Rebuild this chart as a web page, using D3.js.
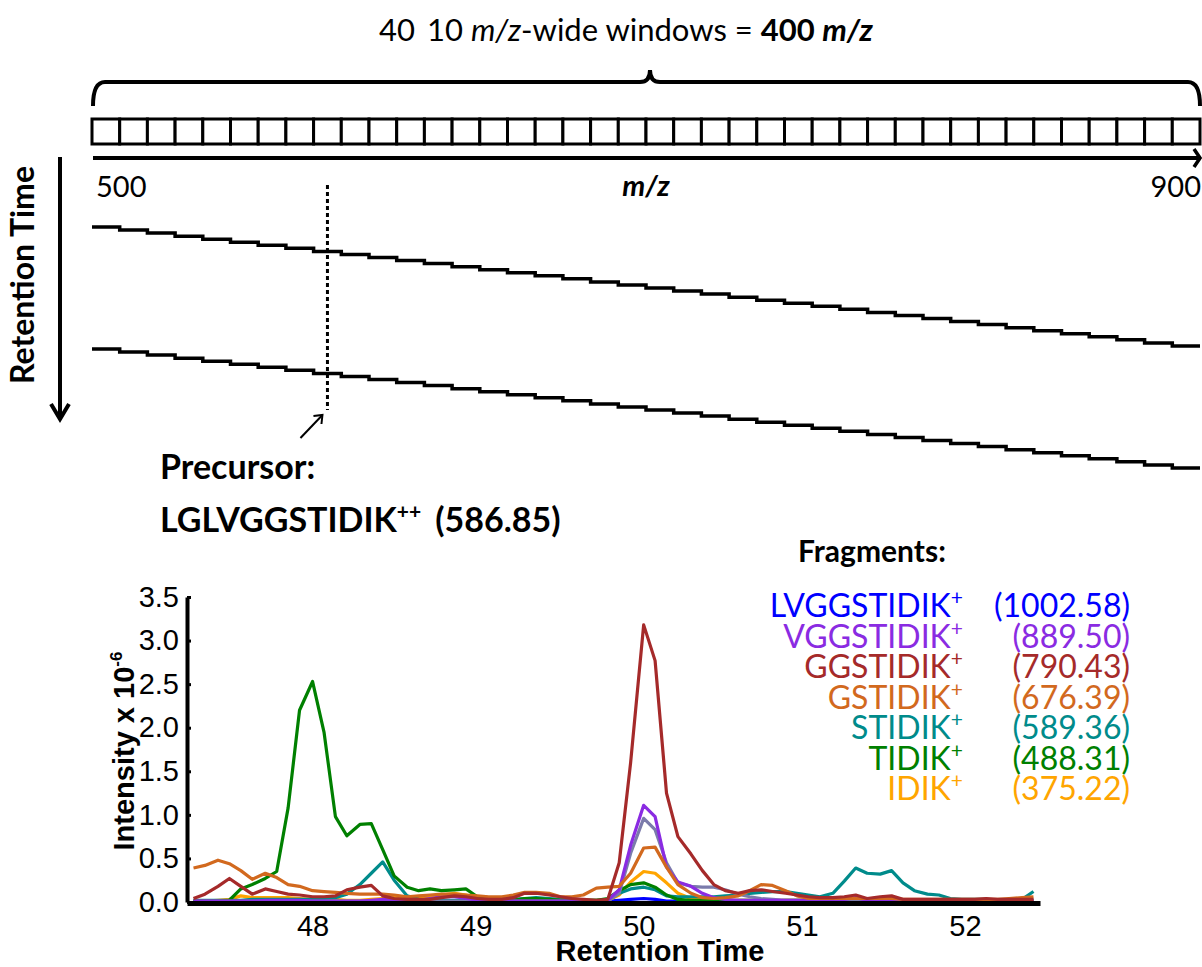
<!DOCTYPE html>
<html>
<head>
<meta charset="utf-8">
<script src="https://cdn.jsdelivr.net/npm/d3@7"></script>
<style>
  body { margin: 0; background: #fff; }
  svg { display: block; }
</style>
</head>
<body>
<svg id="chart" width="1202" height="967"></svg>
<script>
// ---- data ----
const mzExtent = [500, 900];
const windowWidth = 10;
const cycles = [0, 1];
const precursorMz = 586.85;

const times = [
  47.27, 47.34, 47.42, 47.49, 47.56, 47.63, 47.71, 47.78, 47.85, 47.92,
  48.00, 48.07, 48.14, 48.21, 48.29, 48.36, 48.43, 48.50, 48.58, 48.65,
  48.72, 48.79, 48.87, 48.94, 49.01, 49.08, 49.16, 49.23, 49.30, 49.37,
  49.45, 49.52, 49.59, 49.66, 49.74, 49.81, 49.88, 49.95, 50.03, 50.10,
  50.17, 50.24, 50.32, 50.39, 50.46, 50.53, 50.61, 50.68, 50.75, 50.82,
  50.90, 50.97, 51.04, 51.11, 51.19, 51.26, 51.33, 51.40, 51.48, 51.55,
  51.62, 51.69, 51.77, 51.84, 51.91, 51.98, 52.06, 52.13, 52.20, 52.27,
  52.35, 52.42
];

const lvggstidik = [
  0.01, 0.01, 0.01, 0.01, 0.01, 0.01, 0.01, 0.01, 0.01, 0.01,
  0.01, 0.01, 0.01, 0.01, 0.01, 0.01, 0.02, 0.04, 0.03, 0.02,
  0.01, 0.01, 0.01, 0.01, 0.01, 0.01, 0.01, 0.01, 0.01, 0.01,
  0.01, 0.01, 0.01, 0.01, 0.01, 0.01, 0.02, 0.03, 0.04, 0.03,
  0.01, 0.01, 0.01, 0.01, 0.01, 0.01, 0.01, 0.01, 0.01, 0.01,
  0.01, 0.01, 0.01, 0.01, 0.01, 0.01, 0.01, 0.01, 0.01, 0.01,
  0.01, 0.01, 0.01, 0.01, 0.01, 0.01, 0.01, 0.01, 0.01, 0.01,
  0.01, 0.01
];
const vggstidik = [
  0.01, 0.01, 0.01, 0.01, 0.01, 0.01, 0.02, 0.02, 0.02, 0.02,
  0.01, 0.01, 0.01, 0.01, 0.01, 0.02, 0.03, 0.02, 0.02, 0.02,
  0.04, 0.06, 0.06, 0.04, 0.02, 0.02, 0.01, 0.01, 0.01, 0.01,
  0.01, 0.01, 0.01, 0.01, 0.01, 0.02, 0.14, 0.65, 1.11, 0.98,
  0.40, 0.23, 0.18, 0.10, 0.05, 0.03, 0.02, 0.02, 0.02, 0.02,
  0.02, 0.02, 0.02, 0.02, 0.02, 0.03, 0.05, 0.02, 0.02, 0.02,
  0.02, 0.02, 0.02, 0.02, 0.02, 0.02, 0.02, 0.02, 0.02, 0.02,
  0.02, 0.02
];
const unlabeled = [
  0.01, 0.01, 0.01, 0.01, 0.01, 0.01, 0.01, 0.01, 0.01, 0.01,
  0.01, 0.01, 0.01, 0.01, 0.01, 0.01, 0.01, 0.01, 0.01, 0.01,
  0.01, 0.01, 0.01, 0.01, 0.01, 0.01, 0.01, 0.01, 0.01, 0.01,
  0.01, 0.01, 0.01, 0.01, 0.01, 0.01, 0.10, 0.56, 0.96, 0.83,
  0.45, 0.22, 0.18, 0.17, 0.17, 0.14, 0.09, 0.06, 0.04, 0.03,
  0.02, 0.02, 0.02, 0.02, 0.02, 0.02, 0.02, 0.02, 0.02, 0.02,
  0.02, 0.02, 0.02, 0.02, 0.02, 0.02, 0.02, 0.02, 0.02, 0.02,
  0.02, 0.02
];
const ggstidik = [
  0.04, 0.09, 0.18, 0.27, 0.18, 0.09, 0.15, 0.12, 0.09, 0.08,
  0.06, 0.06, 0.07, 0.14, 0.17, 0.19, 0.07, 0.04, 0.03, 0.03,
  0.03, 0.05, 0.07, 0.06, 0.04, 0.03, 0.03, 0.05, 0.10, 0.10,
  0.08, 0.06, 0.04, 0.03, 0.02, 0.03, 0.45, 1.60, 3.18, 2.77,
  1.25, 0.75, 0.55, 0.36, 0.20, 0.13, 0.10, 0.13, 0.14, 0.12,
  0.10, 0.08, 0.06, 0.05, 0.05, 0.06, 0.08, 0.04, 0.06, 0.07,
  0.03, 0.03, 0.03, 0.03, 0.03, 0.03, 0.03, 0.04, 0.03, 0.03,
  0.03, 0.03
];
const gstidik = [
  0.39, 0.42, 0.48, 0.44, 0.36, 0.26, 0.33, 0.28, 0.20, 0.18,
  0.13, 0.12, 0.11, 0.10, 0.09, 0.09, 0.09, 0.08, 0.06, 0.07,
  0.08, 0.09, 0.09, 0.08, 0.07, 0.06, 0.06, 0.08, 0.11, 0.11,
  0.10, 0.06, 0.06, 0.08, 0.16, 0.17, 0.18, 0.33, 0.62, 0.63,
  0.40, 0.20, 0.10, 0.05, 0.04, 0.05, 0.07, 0.13, 0.20, 0.19,
  0.13, 0.07, 0.04, 0.04, 0.04, 0.04, 0.04, 0.04, 0.04, 0.04,
  0.03, 0.03, 0.03, 0.03, 0.03, 0.03, 0.03, 0.03, 0.03, 0.04,
  0.05, 0.06
];
const stidik = [
  0.02, 0.02, 0.02, 0.02, 0.02, 0.03, 0.03, 0.03, 0.03, 0.03,
  0.03, 0.04, 0.05, 0.09, 0.20, 0.33, 0.46, 0.25, 0.07, 0.03,
  0.02, 0.02, 0.02, 0.02, 0.02, 0.03, 0.03, 0.03, 0.04, 0.05,
  0.04, 0.03, 0.02, 0.02, 0.02, 0.02, 0.10, 0.15, 0.17, 0.14,
  0.07, 0.06, 0.06, 0.06, 0.06, 0.07, 0.08, 0.10, 0.11, 0.12,
  0.12, 0.10, 0.08, 0.06, 0.10, 0.24, 0.39, 0.33, 0.32, 0.36,
  0.22, 0.13, 0.09, 0.08, 0.04, 0.03, 0.03, 0.03, 0.02, 0.02,
  0.03, 0.12
];
const tidik = [
  0.01, 0.01, 0.01, 0.02, 0.15, 0.20, 0.27, 0.35, 1.08, 2.20,
  2.53, 1.95, 0.98, 0.76, 0.89, 0.90, 0.60, 0.30, 0.17, 0.13,
  0.15, 0.13, 0.14, 0.15, 0.06, 0.03, 0.02, 0.02, 0.04, 0.04,
  0.03, 0.02, 0.02, 0.02, 0.02, 0.04, 0.13, 0.20, 0.22, 0.17,
  0.08, 0.03, 0.02, 0.02, 0.02, 0.01, 0.02, 0.02, 0.02, 0.01,
  0.02, 0.02, 0.02, 0.01, 0.01, 0.02, 0.02, 0.02, 0.01, 0.01,
  0.01, 0.01, 0.02, 0.02, 0.01, 0.01, 0.01, 0.01, 0.02, 0.02,
  0.02, 0.02
];
const idik = [
  0.01, 0.01, 0.02, 0.03, 0.07, 0.05, 0.05, 0.05, 0.05, 0.04,
  0.03, 0.03, 0.03, 0.02, 0.02, 0.03, 0.04, 0.05, 0.05, 0.05,
  0.06, 0.08, 0.10, 0.08, 0.04, 0.03, 0.02, 0.02, 0.02, 0.02,
  0.02, 0.02, 0.02, 0.02, 0.02, 0.02, 0.08, 0.23, 0.35, 0.33,
  0.22, 0.10, 0.04, 0.03, 0.02, 0.02, 0.02, 0.02, 0.02, 0.02,
  0.02, 0.02, 0.02, 0.02, 0.02, 0.02, 0.02, 0.02, 0.02, 0.02,
  0.02, 0.02, 0.02, 0.02, 0.02, 0.02, 0.02, 0.02, 0.02, 0.02,
  0.02, 0.02
];

const fragmentNames = ["LVGGSTIDIK", "VGGSTIDIK", "GGSTIDIK", "GSTIDIK", "STIDIK", "TIDIK", "IDIK"];
const fragmentMz = ["1002.58", "889.50", "790.43", "676.39", "589.36", "488.31", "375.22"];
const fragmentColors = ["#0000ff", "#8a2be2", "#a52a2a", "#d2691e", "#008b8b", "#008000", "#ffa500"];

const xTicks = [48, 49, 50, 51, 52];
const yTicks = [0, 0.5, 1, 1.5, 2, 2.5, 3, 3.5];

// draw order: back to front
const series = [
  { values: lvggstidik, color: fragmentColors[0] },
  { values: idik, color: fragmentColors[6] },
  { values: stidik, color: fragmentColors[4] },
  { values: tidik, color: fragmentColors[5] },
  { values: unlabeled, color: "#7b7bab" },
  { values: vggstidik, color: fragmentColors[1] },
  { values: gstidik, color: fragmentColors[3] },
  { values: ggstidik, color: fragmentColors[2] }
];

const svg = d3.select("svg#chart");
const calibri = "Lato, 'Open Sans', sans-serif";
const arial = "'Liberation Sans', Arial, sans-serif";

// ---- top diagram: isolation windows ----
const mz = d3.scaleLinear().domain(mzExtent).range([92, 1200]);
const windows = d3.range(mzExtent[0], mzExtent[1], windowWidth);
const rt = d3.scaleLinear().domain([0, 2]).range([227, 471]);

const diagram = svg.append("g");

// title
const title = diagram.append("text")
  .attr("x", 626).attr("y", 41)
  .attr("text-anchor", "middle")
  .attr("font-family", calibri).attr("font-size", 31);
title.append("tspan").text("40");
title.append("tspan").attr("dx", 12).text("10 ");
title.append("tspan").attr("font-style", "italic").text("m/z");
title.append("tspan").text("-wide windows = ");
title.append("tspan").attr("font-weight", "bold").text("400 ");
title.append("tspan").attr("font-weight", "bold").attr("font-style", "italic").text("m/z");

// curly bracket over the windows
const bx0 = mz(mzExtent[0]) + 1, bx1 = mz(mzExtent[1]), bmid = mz(700) + 4;
const br = d3.path();
br.moveTo(bx0, 106);
br.quadraticCurveTo(bx0, 82, bx0 + 12, 82);
br.lineTo(bmid - 10, 82);
br.quadraticCurveTo(bmid, 82, bmid, 70);
br.quadraticCurveTo(bmid, 82, bmid + 10, 82);
br.lineTo(bx1 - 12, 82);
br.quadraticCurveTo(bx1, 82, bx1, 106);
diagram.append("path").attr("d", br.toString())
  .attr("fill", "none").attr("stroke", "#000").attr("stroke-width", 4);

// window boxes
diagram.selectAll("rect.win")
  .data(windows)
  .join("rect")
  .attr("class", "win")
  .attr("x", (d) => mz(d))
  .attr("y", 119)
  .attr("width", (d) => mz(d + windowWidth) - mz(d))
  .attr("height", 25)
  .attr("fill", "#fff")
  .attr("stroke", "#000")
  .attr("stroke-width", 3);

// m/z axis with arrow
diagram.append("line")
  .attr("x1", mz(mzExtent[0]) + 1).attr("x2", mz(mzExtent[1]) - 2)
  .attr("y1", 158).attr("y2", 158)
  .attr("stroke", "#000").attr("stroke-width", 4);
diagram.append("path")
  .attr("d", `M${mz(mzExtent[1]) - 6},149 L${mz(mzExtent[1])},158 L${mz(mzExtent[1]) - 6},167`)
  .attr("fill", "none").attr("stroke", "#000").attr("stroke-width", 3.5);

diagram.append("text").attr("x", mz(mzExtent[0]) + 4).attr("y", 197)
  .attr("font-family", calibri).attr("font-size", 29).text(mzExtent[0]);
diagram.append("text").attr("x", mz(mzExtent[1]) + 1).attr("y", 197)
  .attr("text-anchor", "end")
  .attr("font-family", calibri).attr("font-size", 29).text(mzExtent[1]);
diagram.append("text").attr("x", mz(700)).attr("y", 196)
  .attr("text-anchor", "middle")
  .attr("font-family", calibri).attr("font-size", 29)
  .attr("font-weight", "bold").attr("font-style", "italic").text("m/z");

// retention time arrow
diagram.append("line").attr("x1", 60).attr("x2", 60).attr("y1", 157).attr("y2", 418)
  .attr("stroke", "#000").attr("stroke-width", 4);
diagram.append("path").attr("d", "M51,404 L60,419 L69,404")
  .attr("fill", "none").attr("stroke", "#000").attr("stroke-width", 4);
diagram.append("text")
  .attr("transform", "translate(34,275) rotate(-90)")
  .attr("text-anchor", "middle")
  .attr("font-family", calibri).attr("font-size", 32).attr("font-weight", "bold")
  .text("Retention Time");

// staircase: each cycle visits the windows in turn
const stair = d3.line().curve(d3.curveStepAfter)
  .x((d) => mz(d.mz))
  .y((d) => rt(d.t));
cycles.forEach((c) => {
  const pts = windows.map((w, k) => ({ mz: w, t: c + k / windows.length }));
  pts.push({ mz: mzExtent[1], t: c + (windows.length - 1) / windows.length });
  diagram.append("path").attr("d", stair(pts))
    .attr("fill", "none").attr("stroke", "#000").attr("stroke-width", 3.5);
});

// precursor marker at its window centre
const precWin = Math.floor((precursorMz - mzExtent[0]) / windowWidth) * windowWidth + mzExtent[0];
const px = mz(precWin + windowWidth / 2);
diagram.append("line").attr("x1", px).attr("x2", px).attr("y1", 185).attr("y2", 410)
  .attr("stroke", "#000").attr("stroke-width", 3).attr("stroke-dasharray", "4,3");
diagram.append("line").attr("x1", px - 27).attr("y1", 438).attr("x2", px - 5).attr("y2", 415)
  .attr("stroke", "#000").attr("stroke-width", 2);
diagram.append("path").attr("d", `M${px - 14},416 L${px - 5},415 L${px - 6},424`)
  .attr("fill", "none").attr("stroke", "#000").attr("stroke-width", 2);

diagram.append("text").attr("x", 160).attr("y", 479)
  .attr("font-family", calibri).attr("font-size", 34).attr("font-weight", "bold")
  .text("Precursor:");
const prec = diagram.append("text").attr("x", 160).attr("y", 532)
  .attr("font-family", calibri).attr("font-size", 34).attr("font-weight", "bold");
prec.append("tspan").text("LGLVGGSTIDIK");
prec.append("tspan").attr("font-size", 21).attr("dy", -13).text("++");
prec.append("tspan").attr("dy", 13).attr("dx", 14).text(`(${precursorMz})`);

// ---- bottom chart: fragment chromatograms ----
const x = d3.scaleLinear().domain([47.23, 52.46]).range([187, 1040]);
const y = d3.scaleLinear().domain([0, 3.5]).range([902, 597]);

const plot = svg.append("g");

const line = d3.line()
  .x((_, i) => x(times[i]))
  .y((d) => y(d));

plot.selectAll("path.trace")
  .data(series)
  .join("path")
  .attr("class", "trace")
  .attr("d", (d) => line(d.values))
  .attr("fill", "none")
  .attr("stroke", (d) => d.color)
  .attr("stroke-width", 3.2)
  .attr("stroke-linejoin", "round");

// axes
const yAxis = plot.append("g").attr("transform", `translate(${x.range()[0]},0)`)
  .call(d3.axisLeft(y).tickValues(yTicks).tickFormat(d3.format(".1f"))
    .tickSizeInner(-4).tickSizeOuter(0).tickPadding(8));
yAxis.select(".domain").attr("stroke-width", 4);
yAxis.selectAll(".tick line").attr("stroke-width", 3);
yAxis.selectAll("text").attr("font-family", arial).attr("font-size", 29).attr("fill", "#000");

const xAxis = plot.append("g").attr("transform", `translate(0,${y(0) + 1})`)
  .call(d3.axisBottom(x).tickValues(xTicks).tickSize(0).tickPadding(12).tickFormat(d3.format("d")));
xAxis.select(".domain").attr("stroke-width", 5);
xAxis.selectAll("text").attr("font-family", arial).attr("font-size", 29).attr("fill", "#000");

plot.append("text").attr("x", 660).attr("y", 961)
  .attr("text-anchor", "middle")
  .attr("font-family", arial).attr("font-size", 29).attr("font-weight", "bold")
  .text("Retention Time");

const ylab = plot.append("text")
  .attr("transform", "translate(134,751) rotate(-90)")
  .attr("text-anchor", "middle")
  .attr("font-family", arial).attr("font-size", 29).attr("font-weight", "bold");
ylab.append("tspan").text("Intensity x 10");
ylab.append("tspan").attr("font-size", 17).attr("dy", -12).text("-6");

// legend
plot.append("text").attr("x", 872).attr("y", 562)
  .attr("text-anchor", "middle")
  .attr("font-family", calibri).attr("font-size", 30).attr("font-weight", "bold")
  .text("Fragments:");

const ly = d3.scalePoint().domain(fragmentNames).range([617, 800]);
const lg = plot.selectAll("g.leg")
  .data(fragmentNames)
  .join("g")
  .attr("class", "leg")
  .attr("transform", (d) => `translate(0,${ly(d)})`)
  .attr("font-family", calibri)
  .attr("font-size", 32)
  .attr("fill", (_, i) => fragmentColors[i]);
const nm = lg.append("text").attr("x", 963).attr("text-anchor", "end");
nm.append("tspan").text((d) => d);
nm.append("tspan").attr("font-size", 21).attr("dy", -12).text("+");
lg.append("text").attr("x", 1130).attr("text-anchor", "end")
  .text((_, i) => `(${fragmentMz[i]})`);
</script>
</body>
</html>
